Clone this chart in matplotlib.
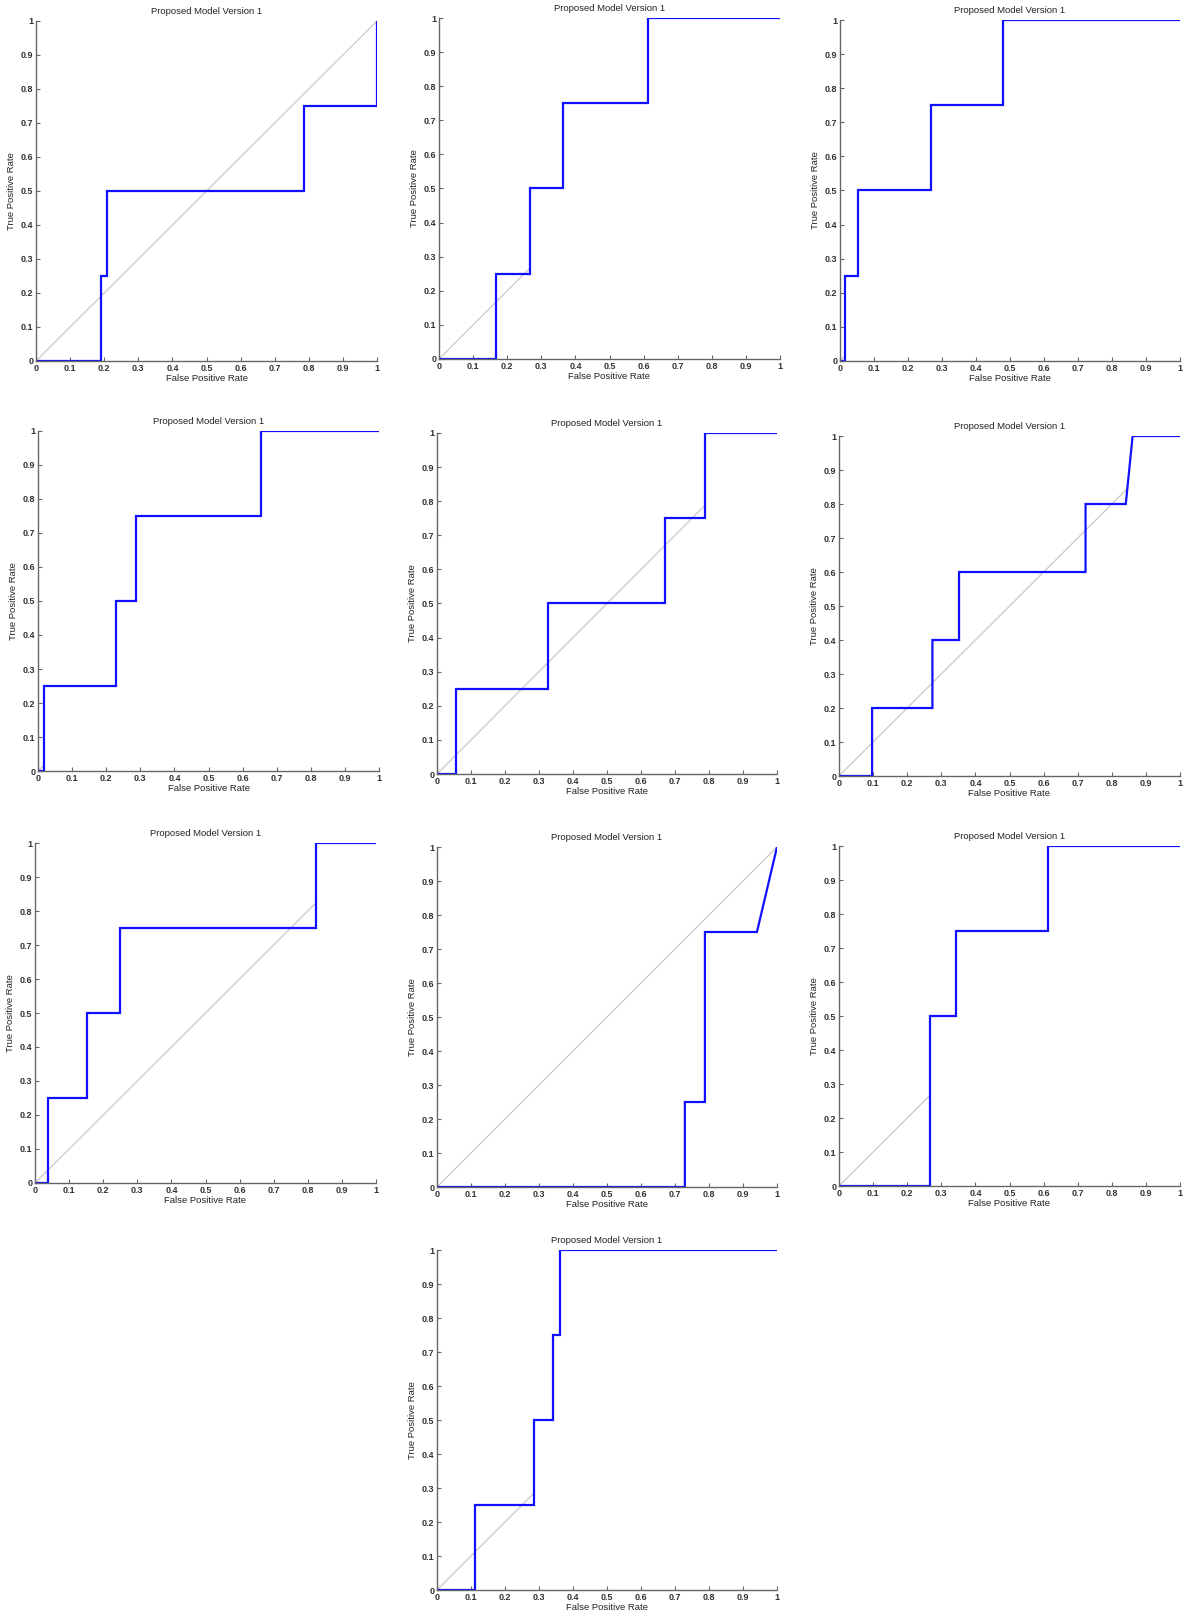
import numpy as np
import matplotlib
matplotlib.use("Agg")
import matplotlib.pyplot as plt

########################################################
# DATA (ROC curve vertices)

fpr1 = [0, 0.19, 0.19, 0.207, 0.207, 0.787, 0.787, 1.0, 1.0]
tpr1 = [0, 0, 0.25, 0.25, 0.5, 0.5, 0.75, 0.75, 1.0]

fpr2 = [0, 0.168, 0.168, 0.266, 0.266, 0.363, 0.363, 0.6125, 0.6125, 1.0]
tpr2 = [0, 0, 0.25, 0.25, 0.5, 0.5, 0.75, 0.75, 1.0, 1.0]

fpr3 = [0, 0.016, 0.016, 0.054, 0.054, 0.267, 0.267, 0.478, 0.478, 1.0]
tpr3 = [0, 0, 0.25, 0.25, 0.5, 0.5, 0.75, 0.75, 1.0, 1.0]

fpr4 = [0, 0.018, 0.018, 0.23, 0.23, 0.286, 0.286, 0.653, 0.653, 1.0]
tpr4 = [0, 0, 0.25, 0.25, 0.5, 0.5, 0.75, 0.75, 1.0, 1.0]

fpr5 = [0, 0.055, 0.055, 0.325, 0.325, 0.670, 0.670, 0.788, 0.788, 1.0]
tpr5 = [0, 0, 0.25, 0.25, 0.5, 0.5, 0.75, 0.75, 1.0, 1.0]

fpr6 = [0, 0.097, 0.097, 0.274, 0.274, 0.352, 0.352, 0.723, 0.723, 0.841, 0.861, 1.0]
tpr6 = [0, 0, 0.2, 0.2, 0.4, 0.4, 0.6, 0.6, 0.8, 0.8, 1.0, 1.0]

fpr7 = [0, 0.037, 0.037, 0.152, 0.152, 0.248, 0.248, 0.825, 0.825, 1.0]
tpr7 = [0, 0, 0.25, 0.25, 0.5, 0.5, 0.75, 0.75, 1.0, 1.0]

fpr8 = [0, 0.729, 0.729, 0.788, 0.788, 0.941, 1.0]
tpr8 = [0, 0, 0.25, 0.25, 0.75, 0.75, 1.0]

fpr9 = [0, 0.268, 0.268, 0.342, 0.342, 0.614, 0.614, 1.0]
tpr9 = [0, 0, 0.5, 0.5, 0.75, 0.75, 1.0, 1.0]

fpr10 = [0, 0.1125, 0.1125, 0.286, 0.286, 0.342, 0.342, 0.363, 0.363, 1.0]
tpr10 = [0, 0, 0.25, 0.25, 0.5, 0.5, 0.75, 0.75, 1.0, 1.0]

# where the grey chance line stops in each panel
diag_end = [1.0, 0.266, 0.016, 0.018, 0.788, 0.843, 0.825, 1.0, 0.268, 0.286]

title = "Proposed Model Version 1"
xlab = "False Positive Rate"
ylab = "True Positive Rate"
ticks = [0, 0.1, 0.2, 0.3, 0.4, 0.5, 0.6, 0.7, 0.8, 0.9, 1]
tick_labels = ["0", "0.1", "0.2", "0.3", "0.4", "0.5", "0.6", "0.7", "0.8", "0.9", "1"]

fprs = [fpr1, fpr2, fpr3, fpr4, fpr5, fpr6, fpr7, fpr8, fpr9, fpr10]
tprs = [tpr1, tpr2, tpr3, tpr4, tpr5, tpr6, tpr7, tpr8, tpr9, tpr10]

########################################################
# LAYOUT (axes boxes in pixels: left, right, top, bottom)

W, H = 1183, 1617
boxes = [
    (36, 377, 21, 361), (439, 780, 18, 359), (840, 1180, 20, 361),
    (38, 379, 431, 771), (437, 777, 433, 774), (839, 1180, 436, 776),
    (35, 376, 843, 1183), (437, 777, 847, 1187), (839, 1180, 846, 1186),
    (437, 777, 1250, 1590),
]

plt.rcParams['font.family'] = ['Liberation Sans', 'DejaVu Sans']
plt.rcParams['font.size'] = 6.5

fig = plt.figure(figsize=(W / 100, H / 100), dpi=100)

for i in range(10):
    l, r, t, b = boxes[i]
    ax = fig.add_axes([l / W, 1 - b / H, (r - l) / W, (b - t) / H])
    d = diag_end[i]
    ax.plot([0, d], [0, d], color="#c8c8c8", lw=0.9, zorder=1)
    ax.plot(fprs[i], tprs[i], color="#1010ff", lw=1.6, zorder=2,
            solid_joinstyle="miter")
    ax.set_xlim(0, 1)
    ax.set_ylim(0, 1)
    ax.spines['top'].set_visible(False)
    ax.spines['right'].set_visible(False)
    for s in ('left', 'bottom'):
        ax.spines[s].set_color("#666666")
        ax.spines[s].set_linewidth(1.0)
    ax.set_xticks(ticks)
    ax.set_yticks(ticks)
    ax.set_xticklabels(tick_labels, fontweight="bold")
    ax.set_yticklabels(tick_labels, fontweight="bold")
    ax.tick_params(direction="in", length=3, width=0.8, color="#666666",
                   labelsize=6.5, labelcolor="#333333", pad=2)
    ax.set_title(title, fontsize=6.8, color="#222222", pad=5)
    ax.set_xlabel(xlab, fontsize=6.8, color="#222222", labelpad=1)
    ax.set_ylabel(ylab, fontsize=6.8, color="#222222", labelpad=3)

fig.savefig("out.png", dpi=100)
